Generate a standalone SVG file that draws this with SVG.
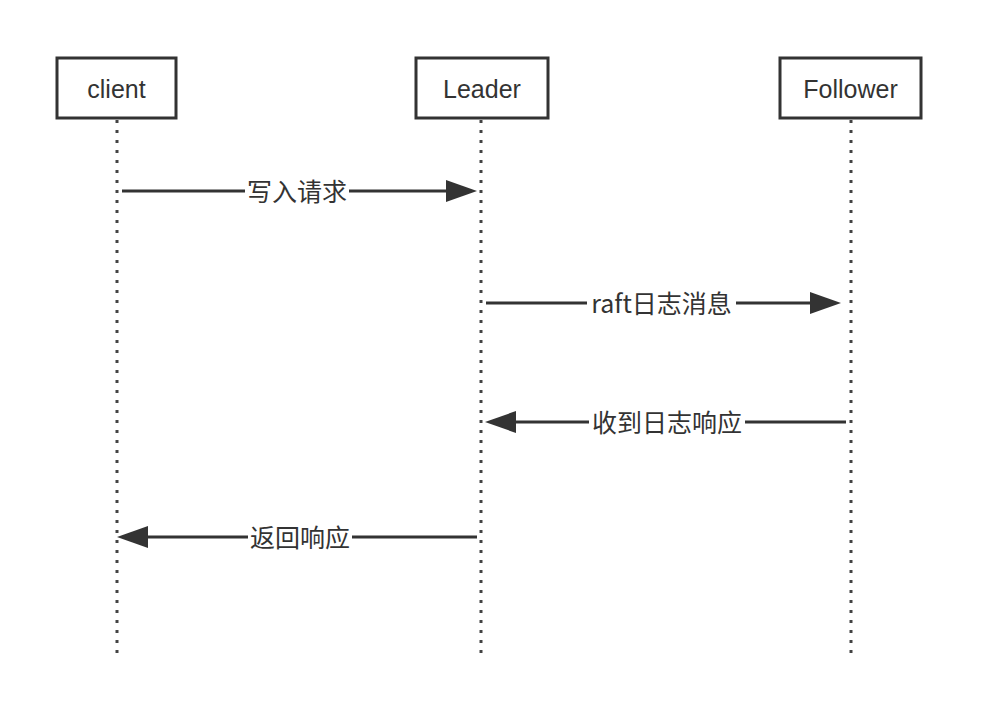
<svg xmlns="http://www.w3.org/2000/svg" width="982" height="714" viewBox="0 0 982 714">
  <style>
    .box { fill: #ffffff; stroke: #333333; stroke-width: 3; }
    .lbl { font-family: "Liberation Sans", "Noto Sans CJK SC", sans-serif; font-size: 25px; fill: #333333; text-anchor: middle; dominant-baseline: central; }
    .life { stroke: #444444; stroke-width: 3; stroke-dasharray: 3 7; fill: none; }
    .msg { stroke: #333333; stroke-width: 3; fill: none; }
    .head { fill: #333333; }
    .mlbl { font-family: "Noto Sans CJK SC", "Liberation Sans", sans-serif; font-size: 25px; fill: #333333; text-anchor: middle; dominant-baseline: central; }
    .bg { fill: #ffffff; }
  </style>
  <rect width="982" height="714" fill="#ffffff"/>

  <!-- lifelines -->
  <g id="lifelines">
    <line class="life" x1="117" y1="120" x2="117" y2="655"/>
    <line class="life" x1="481" y1="120" x2="481" y2="655"/>
    <line class="life" x1="851" y1="120" x2="851" y2="655"/>
  </g>

  <g id="client">
    <rect class="box" x="57" y="58" width="119" height="60"/>
    <text class="lbl" x="116.5" y="89">client</text>
  </g>
  <g id="leader">
    <rect class="box" x="416" y="58" width="132" height="60"/>
    <text class="lbl" x="482" y="89">Leader</text>
  </g>
  <g id="follower">
    <rect class="box" x="780" y="58" width="141" height="60"/>
    <text class="lbl" x="850.5" y="89">Follower</text>
  </g>

  <!-- messages -->
  <g id="connectors">
    <line class="msg" x1="122" y1="191" x2="448" y2="191"/>
    <polygon class="head" points="446,180 477,191 446,202"/>
    <rect class="bg" x="245" y="176" width="104" height="30"/>
    <text class="mlbl" x="297" y="190">写入请求</text>

    <line class="msg" x1="486" y1="303" x2="812" y2="303"/>
    <polygon class="head" points="810,292 841,303 810,314"/>
    <rect class="bg" x="587" y="288" width="149" height="30"/>
    <text class="mlbl" x="661.5" y="302">raft日志消息</text>

    <line class="msg" x1="846" y1="422" x2="514" y2="422"/>
    <polygon class="head" points="516,411 485,422 516,433"/>
    <rect class="bg" x="589" y="407" width="156" height="30"/>
    <text class="mlbl" x="667" y="421">收到日志响应</text>

    <line class="msg" x1="477" y1="537" x2="146" y2="537"/>
    <polygon class="head" points="148,526 117,537 148,548"/>
    <rect class="bg" x="248" y="522" width="104" height="30"/>
    <text class="mlbl" x="300" y="536">返回响应</text>
  </g>
</svg>
